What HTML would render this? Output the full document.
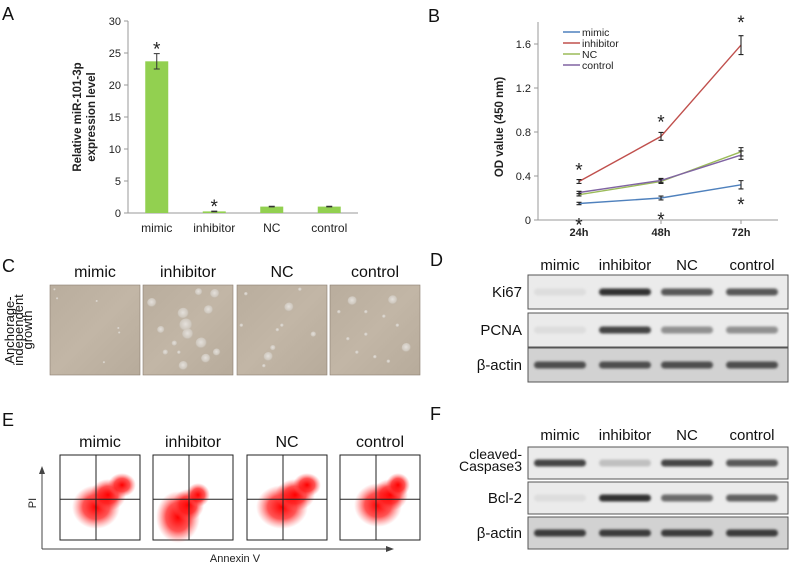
<!DOCTYPE html>
<html><head><meta charset="utf-8"><style>
body{margin:0;background:#fff;width:789px;height:568px;overflow:hidden}
svg{display:block;font-family:"Liberation Sans",Arial,sans-serif}
</style></head><body>
<svg id="fig" width="789" height="568" viewBox="0 0 789 568">
<defs>
<radialGradient id="rb" cx="50%" cy="50%" r="50%"><stop offset="0" stop-color="#ff0000" stop-opacity="1"/><stop offset="0.55" stop-color="#ff1a1a" stop-opacity="0.75"/><stop offset="1" stop-color="#ff6060" stop-opacity="0"/></radialGradient>
<radialGradient id="cell" cx="45%" cy="40%" r="55%"><stop offset="0" stop-color="#e4e0db"/><stop offset="0.7" stop-color="#cfc8be"/><stop offset="1" stop-color="#b8ad9f" stop-opacity="0"/></radialGradient>
<linearGradient id="bg" x1="0" y1="0" x2="1" y2="1"><stop offset="0" stop-color="#b9ad9d"/><stop offset="0.5" stop-color="#c2b6a6"/><stop offset="1" stop-color="#b7ab9b"/></linearGradient>
<filter id="blur" x="-20%" y="-100%" width="140%" height="300%"><feGaussianBlur stdDeviation="1.4"/></filter>
</defs>
<g font-size="18" fill="#111">
<text x="2" y="20">A</text>
<text x="428" y="22">B</text>
<text x="2" y="272">C</text>
<text x="430" y="266">D</text>
<text x="2" y="426">E</text>
<text x="430" y="420">F</text>
</g>
<g id="chartA"></g>
<g id="chartB"></g>
<g id="panelC"></g>
<g id="blotD"></g>
<g id="blotF"></g>
<g id="panelE"></g>
</svg>
<script>
const groups=["mimic","inhibitor","NC","control"];
const aValues=[23.7,0.25,1.0,1.0];
const aErrors=[1.2,0.05,0.05,0.05];
const aStars=[true,true,false,false];
const aTicks=[0,5,10,15,20,25,30];
const bTimes=["24h","48h","72h"];
const bMimic=[0.15,0.20,0.32];
const bInhibitor=[0.35,0.76,1.59];
const bNC=[0.23,0.35,0.62];
const bControl=[0.25,0.36,0.59];
const bTicks=[0,0.4,0.8,1.2,1.6];
const dRows=["Ki67","PCNA","β-actin"];
const dKi67=[0.05,0.95,0.75,0.75];
const dPCNA=[0.05,0.85,0.45,0.45];
const dActinD=[0.8,0.8,0.8,0.8];
const fRows=["cleaved-Caspase3","Bcl-2","β-actin"];
const fCasp=[0.85,0.2,0.85,0.75];
const fBcl=[0.05,0.95,0.65,0.7];
const fActin=[0.9,0.9,0.9,0.9];

const NS="http://www.w3.org/2000/svg";
function mk(parent,tag,attrs,text){const e=document.createElementNS(NS,tag);for(const k in attrs)e.setAttribute(k,attrs[k]);if(text!==undefined)e.textContent=text;parent.appendChild(e);return e;}

// Panel A
(function(){
const g=document.getElementById('chartA');
const x0=128,x1=358,y0=213,y1=21,max=30;
const ys=v=>y0-(v/max)*(y0-y1);
const bw=(x1-x0)/groups.length;
const xs=i=>x0+bw*(i+0.5);
mk(g,'line',{x1:x0,y1:y1,x2:x0,y2:y0,stroke:'#999'});
mk(g,'line',{x1:x0,y1:y0,x2:x1,y2:y0,stroke:'#999'});
aTicks.forEach(t=>{mk(g,'line',{x1:x0-4,y1:ys(t),x2:x0,y2:ys(t),stroke:'#999'});
const tl=mk(g,'text',{x:x0-7,y:ys(t)+4,'font-size':11,'text-anchor':'end',fill:'#222'},t);
});
groups.forEach((c,i)=>{
const b=mk(g,'rect',{x:xs(i)-11.5,y:ys(aValues[i]),width:23,height:y0-ys(aValues[i]),fill:'#92d050'});

const et=ys(aValues[i]+aErrors[i]),eb=ys(aValues[i]-aErrors[i]);
mk(g,'path',{d:`M${xs(i)-3},${et}H${xs(i)+3}M${xs(i)},${et}V${eb}M${xs(i)-3},${eb}H${xs(i)+3}`,stroke:'#333','stroke-width':1,fill:'none'});
if(aStars[i]){const s=mk(g,'text',{x:xs(i),y:et+2,'font-size':19,'text-anchor':'middle',fill:'#222'},'*');}
const l=mk(g,'text',{x:xs(i),y:232,'font-size':12,'text-anchor':'middle',fill:'#222'},c);

});
const t=mk(g,'text',{transform:'translate(81,117) rotate(-90)','font-size':11.5,'font-weight':'bold','text-anchor':'middle',fill:'#222'});

mk(t,'tspan',{x:0,dy:0},'Relative miR-101-3p');mk(t,'tspan',{x:0,dy:14},'expression level');
})();

// Panel B
(function(){
const g=document.getElementById('chartB');
const x0=538,x1=778,y0=220,yTop=22,max=1.6,yMax=44;
const ys=v=>y0-(v/max)*(y0-yMax);
const xs=i=>[579,661,741][i];
mk(g,'line',{x1:x0,y1:yTop,x2:x0,y2:y0,stroke:'#999'});
mk(g,'line',{x1:x0,y1:y0,x2:x1,y2:y0,stroke:'#999'});
bTicks.forEach(t=>{mk(g,'line',{x1:x0-4,y1:ys(t),x2:x0,y2:ys(t),stroke:'#999'});
const tl=mk(g,'text',{x:x0-7,y:ys(t)+4,'font-size':11,'text-anchor':'end',fill:'#222'},t===0?'0':t.toFixed(1));
});
bTimes.forEach((t,i)=>{mk(g,'line',{x1:xs(i),y1:y0,x2:xs(i),y2:y0+4,stroke:'#999'});
const tl=mk(g,'text',{x:xs(i),y:236,'font-size':11,'font-weight':'bold','text-anchor':'middle',fill:'#222'},t);
});
const series=[["mimic",bMimic,'#4f81bd'],["inhibitor",bInhibitor,'#c0504d'],["NC",bNC,'#9bbb59'],["control",bControl,'#8064a2']];
series.forEach(([n,arr,col],k)=>{
const p=mk(g,'polyline',{points:arr.map((v,i)=>xs(i)+','+ys(v)).join(' '),fill:'none',stroke:col,'stroke-width':1.4});

arr.forEach((v,i)=>{const e=[0.012,0.03,0.08][i]*(n==='inhibitor'?1:0.4)+0.006;const a=ys(v+e),b=ys(v-e);
mk(g,'path',{d:`M${xs(i)-2.5},${a}H${xs(i)+2.5}M${xs(i)},${a}V${b}M${xs(i)-2.5},${b}H${xs(i)+2.5}`,stroke:'#222','stroke-width':1.1,fill:'none'});});
const ly=32+k*11;
mk(g,'line',{x1:563,y1:ly,x2:580,y2:ly,stroke:col,'stroke-width':1.4});
const lt=mk(g,'text',{x:582,y:ly+4,'font-size':10.5,fill:'#222'},n);

});
bInhibitor.forEach((v,i)=>{const s=mk(g,'text',{x:xs(i),y:ys(v)-[5,8,16][i],'font-size':19,'text-anchor':'middle',fill:'#222'},'*');});
bMimic.forEach((v,i)=>{const s=mk(g,'text',{x:xs(i),y:ys(v)+[28,28,26][i],'font-size':19,'text-anchor':'middle',fill:'#222'},'*');});
const t=mk(g,'text',{transform:'translate(503,127) rotate(-90)','font-size':11.5,'font-weight':'bold','text-anchor':'middle',fill:'#222'},'OD value (450 nm)');

})();

// Panel C
(function(){
const g=document.getElementById('panelC');
const xs=[50,143,237,330];
const cells=[[[5,5],[52,18],[76,48],[77,53],[60,86],[8,15]],
[[10,20,5],[80,10,5],[62,8,4],[73,28,5],[45,32,6],[48,45,7],[50,55,6],[65,65,6],[20,50,4],[45,90,5],[25,75,3],[82,75,4],[35,65,3],[40,75,2],[70,82,5]],
[[58,25,5],[5,45,2],[50,45,2],[40,70,3],[35,80,5],[30,90,2],[85,55,3],[10,10,2],[70,5,2],[45,50,2]],
[[25,18,5],[70,17,5],[85,70,5],[10,30,2],[40,30,2],[60,35,2],[40,55,2],[20,60,2],[30,75,2],[75,45,2],[50,80,2],[65,85,2]]];
groups.forEach((c,i)=>{
const tl=mk(g,'text',{x:xs[i]+45,y:277,'font-size':16,'text-anchor':'middle',fill:'#111'},c);

const r=mk(g,'rect',{x:xs[i],y:285,width:90,height:90,fill:'url(#bg)',stroke:'#8a7e70','stroke-width':0.6});

cells[i].forEach(p=>mk(g,'circle',{cx:xs[i]+p[0]*0.9,cy:285+p[1]*0.9,r:p[2]||1.3,fill:'url(#cell)'}));
});
const t=mk(g,'text',{transform:'translate(16,330) rotate(-90)','font-size':13,'text-anchor':'middle',fill:'#111'});

mk(t,'tspan',{x:0,dy:-2},'Anchorage-');mk(t,'tspan',{x:0,dy:9},'independent');mk(t,'tspan',{x:0,dy:9},'growth');
})();

// Blots
function blot(id,rowNames,rowData,headerY,rowsY,rowH){
const g=document.getElementById(id);
const lanes=[560,625,687,752];
groups.forEach((c,i)=>{const tl=mk(g,'text',{x:lanes[i],y:headerY,'font-size':15,'text-anchor':'middle',fill:'#111'},c);
});
rowNames.forEach((n,r)=>{
const y=rowsY[r];
const box=mk(g,'rect',{x:528,y:y,width:260,height:rowH,fill:n==='β-actin'?'#d2d2d2':'#ebebeb',stroke:'#555','stroke-width':1});

if(n==='cleaved-Caspase3'){const t=mk(g,'text',{'font-size':14,'text-anchor':'end',fill:'#111'});

mk(t,'tspan',{x:522,y:y+12},'cleaved-');mk(t,'tspan',{x:522,y:y+24},'Caspase3');}
else{const t=mk(g,'text',{x:522,y:y+rowH/2+5,'font-size':15,'text-anchor':'end',fill:'#111'},n);
}
rowData[r].forEach((v,i)=>{const gray=Math.round(230-v*190);
const b=mk(g,'rect',{x:lanes[i]-26,y:y+rowH/2-3.5,width:52,height:7,rx:3.5,fill:`rgb(${gray},${gray},${gray})`,filter:'url(#blur)'});
});
});
}
blot('blotD',dRows,[dKi67,dPCNA,dActinD],270,[275,313,348],34);
blot('blotF',fRows,[fCasp,fBcl,fActin],440,[447,482,517],32);

// Panel E
(function(){
const g=document.getElementById('panelE');
const xs=[60,153,247,340];
const blobs=[[[36,52,24,22],[48,40,18,16],[62,30,14,12]],[[25,62,22,26],[35,50,16,16],[45,40,12,12]],[[35,52,26,22],[48,40,20,16],[60,30,14,12]],[[38,50,24,22],[50,40,18,16],[58,30,12,12]]];
groups.forEach((c,i)=>{
const tl=mk(g,'text',{x:xs[i]+40,y:447,'font-size':16,'text-anchor':'middle',fill:'#111'},c);

const x=xs[i],y=455,w=80,h=85;
const r=mk(g,'rect',{x:x,y:y,width:w,height:h,fill:'#fff',stroke:'#222','stroke-width':1});

blobs[i].forEach(b=>mk(g,'ellipse',{cx:x+b[0],cy:y+b[1],rx:b[2],ry:b[3],fill:'url(#rb)'}));
mk(g,'line',{x1:x+w*0.45,y1:y,x2:x+w*0.45,y2:y+h,stroke:'#222','stroke-width':1});
mk(g,'line',{x1:x,y1:y+h*0.52,x2:x+w,y2:y+h*0.52,stroke:'#222','stroke-width':1});
});
mk(g,'path',{d:'M42,549V472M42,549H390',stroke:'#444','stroke-width':1,fill:'none'});
mk(g,'path',{d:'M39,474L42,466L45,474Z M386,546L394,549L386,552Z',fill:'#444'});
const p=mk(g,'text',{transform:'translate(36,503) rotate(-90)','font-size':11,'text-anchor':'middle',fill:'#222'},'PI');

const a=mk(g,'text',{x:235,y:562,'font-size':11,'text-anchor':'middle',fill:'#222'},'Annexin V');

})();
</script>
</body></html>
